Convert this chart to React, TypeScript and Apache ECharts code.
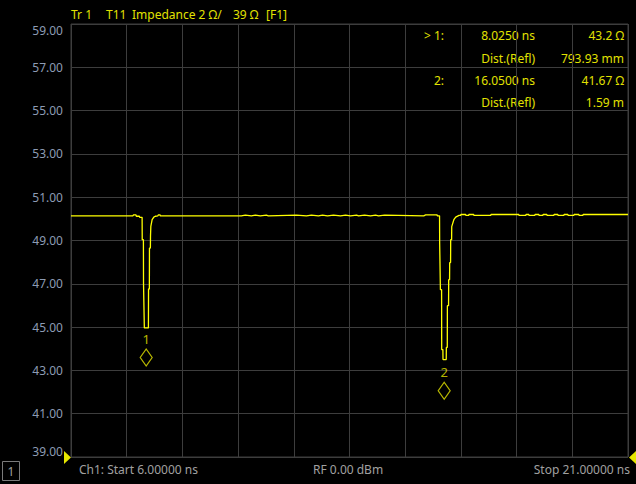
import React, { useEffect, useRef } from 'react';
import * as echarts from 'echarts';

// ---- axes ----
const xMin = 6;
const xMax = 21;
const xStep = 1.5;
const yMin = 39;
const yMax = 59;
const yStep = 2;

// ---- header / footer texts ----
const titleParts = ['Tr 1', 'T11', 'Impedance 2 Ω/', '39 Ω', '[F1]'];
const rfText = 'RF 0.00 dBm';
const channelBox = '1';

// ---- markers ----
const markerIds = ['1', '2'];
const markerTimes = [8.025, 16.05];
const markerOhms = [43.2, 41.67];
const markerDist = ['793.93 mm', '1.59 m'];
const activeMarker = 0;

// ---- trace (time ns, impedance Ω) ----
const traceLeft: [number, number][] = [
  [6.0, 50.14], [7.67, 50.14], [7.68, 50.18], [7.75, 50.18], [7.76, 50.12],
  [7.84, 50.12], [7.85, 50.07],
];
const traceDip1: [number, number][] = [
  [7.915, 50.07], [7.918, 49.04], [7.95, 49.04], [7.953, 46.99], [7.972, 46.99],
  [7.975, 44.96], [8.085, 44.96], [8.088, 46.76], [8.11, 46.76], [8.113, 48.65],
  [8.138, 48.65], [8.141, 49.19], [8.15, 49.65], [8.185, 49.96], [8.23, 50.08],
  [8.27, 50.12], [8.34, 50.14], [8.35, 50.18], [8.4, 50.18], [8.405, 50.14],
];
const traceMiddle: [number, number][] = [
  [10.587, 50.14], [10.59, 50.17], [10.695, 50.17], [10.698, 50.14],
  [10.857, 50.14], [10.86, 50.17], [10.965, 50.17], [10.968, 50.14],
  [11.099, 50.14], [11.102, 50.17], [11.261, 50.17], [11.264, 50.14],
  [11.315, 50.14], [11.318, 50.17], [12.07, 50.17], [12.073, 50.14],
  [12.34, 50.14], [12.343, 50.17], [12.475, 50.17], [12.478, 50.14],
  [12.664, 50.14], [12.667, 50.17], [12.772, 50.17], [12.775, 50.14],
  [12.907, 50.14], [12.91, 50.17], [13.069, 50.17], [13.072, 50.14],
  [13.258, 50.14], [13.261, 50.17], [13.393, 50.17], [13.396, 50.14],
  [13.528, 50.14], [13.531, 50.17], [13.69, 50.17], [13.693, 50.14],
  [13.744, 50.14], [13.747, 50.17], [13.905, 50.17], [13.908, 50.14],
  [14.067, 50.14], [14.07, 50.17], [14.202, 50.17], [14.205, 50.14],
  [14.283, 50.14], [14.286, 50.17], [14.445, 50.17], [14.448, 50.14],
];
const traceDip2: [number, number][] = [
  [15.5, 50.14], [15.55, 50.18], [15.86, 50.18], [15.865, 50.14], [15.925, 50.14],
  [15.928, 48.9], [15.945, 48.9], [15.948, 46.73], [15.98, 46.73], [15.983, 43.96],
  [16.015, 43.96], [16.018, 43.5], [16.105, 43.5], [16.108, 44.06], [16.133, 44.06],
  [16.136, 45.99], [16.168, 45.99], [16.171, 47.19], [16.195, 47.19], [16.198, 47.98],
  [16.222, 47.98], [16.225, 49.04], [16.25, 49.04], [16.253, 49.64], [16.31, 49.96],
  [16.36, 50.08], [16.45, 50.16],
];
const traceRight: [number, number][] = [
  [16.495, 50.16], [16.498, 50.2], [16.63, 50.2], [16.633, 50.16],
  [16.711, 50.16], [16.714, 50.2], [16.846, 50.2], [16.849, 50.16],
  [17.305, 50.16], [17.308, 50.2], [18.06, 50.2], [18.063, 50.16],
  [18.249, 50.16], [18.252, 50.2], [18.33, 50.2], [18.333, 50.16],
  [18.492, 50.16], [18.495, 50.2], [18.6, 50.2], [18.603, 50.16],
  [18.708, 50.16], [18.711, 50.2], [18.816, 50.2], [18.819, 50.16],
  [19.004, 50.16], [19.007, 50.2], [19.112, 50.2], [19.115, 50.16],
  [19.274, 50.16], [19.277, 50.2], [19.382, 50.2], [19.385, 50.16],
  [19.543, 50.16], [19.546, 50.2], [19.678, 50.2], [19.681, 50.16],
  [19.786, 50.16], [19.789, 50.2], [21.0, 50.2],
];

const FONT = '"Noto Sans", "Open Sans", sans-serif';
const YELLOW_TXT = '#e2e200';
const TRACE = '#ffff00';
const GRID = '#3d3d3d';
const AXIS_TXT = '#8d9cb4';
const FOOT_TXT = '#a0a0a0';

function txt(x: number, y: number, text: string, fill: string, align: string, size = 12) {
  return {
    type: 'text',
    x,
    y,
    silent: true,
    style: {
      text,
      fill,
      font: `${size}px ${FONT}`,
      align,
      textAlign: align,
      verticalAlign: 'middle',
      textVerticalAlign: 'middle',
    },
  };
}

export default function App() {
  const ref = useRef<HTMLDivElement>(null);
  useEffect(() => {
    document.body.style.margin = '0';
    document.body.style.background = '#000';
    const chart = echarts.init(ref.current!, null, { renderer: 'svg' });

    const trace = [...traceLeft, ...traceDip1, ...traceMiddle, ...traceDip2, ...traceRight].map(
      ([t, v]) => [t, v - yMin]
    );
    const markers = markerTimes.map((t, i) => ({
      value: [t, markerOhms[i] - yMin],
      name: markerIds[i],
    }));

    const titleX = [71, 106, 132, 233, 266];
    const graphics: any[] = titleParts.map((p, i) => txt(titleX[i], 14, p, YELLOW_TXT, 'left'));

    const rowY = [35, 58, 80, 102];
    markerIds.forEach((id, i) => {
      const y0 = rowY[i * 2];
      const y1 = rowY[i * 2 + 1];
      graphics.push(txt(444, y0, (i === activeMarker ? '> ' : '') + id + ':', YELLOW_TXT, 'right'));
      graphics.push(txt(535, y0, markerTimes[i].toFixed(4) + ' ns', YELLOW_TXT, 'right'));
      graphics.push(txt(624, y0, String(markerOhms[i]) + ' Ω', YELLOW_TXT, 'right'));
      graphics.push(txt(535, y1, 'Dist.(Refl)', YELLOW_TXT, 'right'));
      graphics.push(txt(624, y1, markerDist[i], YELLOW_TXT, 'right'));
    });

    graphics.push(txt(79, 469, 'Ch1: Start ' + xMin.toFixed(5) + ' ns', FOOT_TXT, 'left'));
    graphics.push(txt(313, 469, rfText, FOOT_TXT, 'left'));
    graphics.push(txt(630, 469, 'Stop ' + xMax.toFixed(5) + ' ns', FOOT_TXT, 'right'));
    graphics.push({
      type: 'rect',
      silent: true,
      shape: { x: 2.5, y: 461.5, width: 17, height: 19 },
      style: { fill: 'none', stroke: '#7a7a7a', lineWidth: 1 },
    });
    graphics.push(txt(11, 471, channelBox, FOOT_TXT, 'center'));
    graphics.push({
      type: 'polygon',
      silent: true,
      shape: { points: [[64, 451], [64, 464], [71, 457.5]] },
      style: { fill: '#e6e600' },
    });
    graphics.push({
      type: 'polygon',
      silent: true,
      shape: { points: [[636, 451], [636, 464], [629, 457.5]] },
      style: { fill: '#e6e600' },
    });

    chart.setOption({
      animation: false,
      backgroundColor: '#000',
      textStyle: { fontFamily: FONT },
      grid: {
        left: 71,
        right: 8,
        top: 24,
        bottom: 27,
        show: true,
        borderColor: GRID,
        borderWidth: 1,
        backgroundColor: 'transparent',
      },
      xAxis: {
        type: 'value',
        min: xMin,
        max: xMax,
        interval: xStep,
        axisLine: { show: false },
        axisTick: { show: false },
        axisLabel: { show: false },
        splitLine: { show: true, lineStyle: { color: GRID, width: 1 } },
      },
      yAxis: {
        type: 'value',
        min: 0,
        max: yMax - yMin,
        interval: yStep,
        axisLine: { show: false },
        axisTick: { show: false },
        axisLabel: {
          color: AXIS_TXT,
          fontSize: 12,
          fontFamily: FONT,
          margin: 8,
          formatter: (v: number) => (v + yMin).toFixed(2),
          verticalAlignMinLabel: 'bottom',
          verticalAlignMaxLabel: 'top',
        },
        splitLine: { show: true, lineStyle: { color: GRID, width: 1 } },
      },
      series: [
        {
          type: 'line',
          data: trace,
          showSymbol: false,
          symbol: 'none',
          lineStyle: { color: TRACE, width: 1.3 },
          silent: true,
        },
        {
          type: 'scatter',
          data: markers,
          symbol: 'diamond',
          symbolSize: [12, 17],
          symbolOffset: [0, -8.5],
          itemStyle: { color: 'rgba(0,0,0,0)', borderColor: '#e6e600', borderWidth: 1.2 },
          label: {
            show: true,
            position: 'top',
            distance: 3,
            formatter: (p: any) => p.name,
            color: '#e6e600',
            fontSize: 13,
            fontFamily: FONT,
          },
          silent: true,
        },
      ],
      graphic: graphics,
    });
    return () => chart.dispose();
  }, []);
  return <div ref={ref} style={{ width: 636, height: 484, background: '#000' }} />;
}
